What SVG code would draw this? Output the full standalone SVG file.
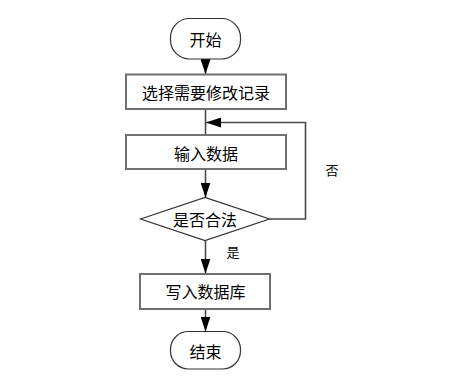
<svg xmlns="http://www.w3.org/2000/svg" width="466" height="381" viewBox="0 0 466 381">
<defs>
<marker id="arr" markerUnits="userSpaceOnUse" markerWidth="15" markerHeight="10" refX="15" refY="5" orient="auto">
<path d="M0,0 L15,5 L0,10 z" fill="#000"/>
</marker>
<style>
.term{fill:#fff;stroke:#333;stroke-width:1.2}
.box{fill:#fff;stroke:#707070;stroke-width:2}
.dia{fill:#fff;stroke:#333;stroke-width:1.2}
.t{font-family:"Noto Sans CJK SC","Liberation Sans",sans-serif;font-size:16px;fill:#000;text-anchor:middle;dominant-baseline:central}
.lbl{font-family:"Noto Sans CJK SC","Liberation Sans",sans-serif;font-size:13px;fill:#000;text-anchor:middle;dominant-baseline:central}
.c{fill:none;stroke:#4a4a4a;stroke-width:1.6}
</style>
</defs>
<rect width="466" height="381" fill="#fff"/>
<g id="connectors">
<path class="c" d="M205.5,59 L205.5,74" marker-end="url(#arr)"/>
<path class="c" d="M205.5,109 L205.5,135"/>
<path class="c" d="M205.5,169 L205.5,197.5" marker-end="url(#arr)"/>
<path class="c" d="M205.5,240.5 L205.5,273.5" marker-end="url(#arr)"/>
<path class="c" d="M205.5,309 L205.5,331.5" marker-end="url(#arr)"/>
<path class="c" d="M269.5,219 L305.5,219 L305.5,122.5 L206,122.5" marker-end="url(#arr)"/>
<text class="lbl" x="332" y="169">否</text>
<text class="lbl" x="233" y="251.5">是</text>
</g>
<g id="start">
<rect class="term" x="170.5" y="18.5" width="70" height="40.5" rx="19" ry="19"/>
<text class="t" x="205.5" y="38.7">开始</text>
</g>
<g id="select">
<rect class="box" x="126" y="74.5" width="160" height="34.5"/>
<text class="t" x="206" y="91.7">选择需要修改记录</text>
</g>
<g id="input">
<rect class="box" x="126" y="135" width="160" height="34"/>
<text class="t" x="206" y="153">输入数据</text>
</g>
<g id="check">
<polygon class="dia" points="140.5,219 205,197.5 269.5,219 205,240.5"/>
<text class="t" x="205" y="219.3">是否合法</text>
</g>
<g id="write">
<rect class="box" x="140" y="274" width="130" height="35"/>
<text class="t" x="205.5" y="291">写入数据库</text>
</g>
<g id="end">
<rect class="term" x="170.5" y="331.5" width="70" height="37.5" rx="18" ry="18"/>
<text class="t" x="205.5" y="350.7">结束</text>
</g>
</svg>
